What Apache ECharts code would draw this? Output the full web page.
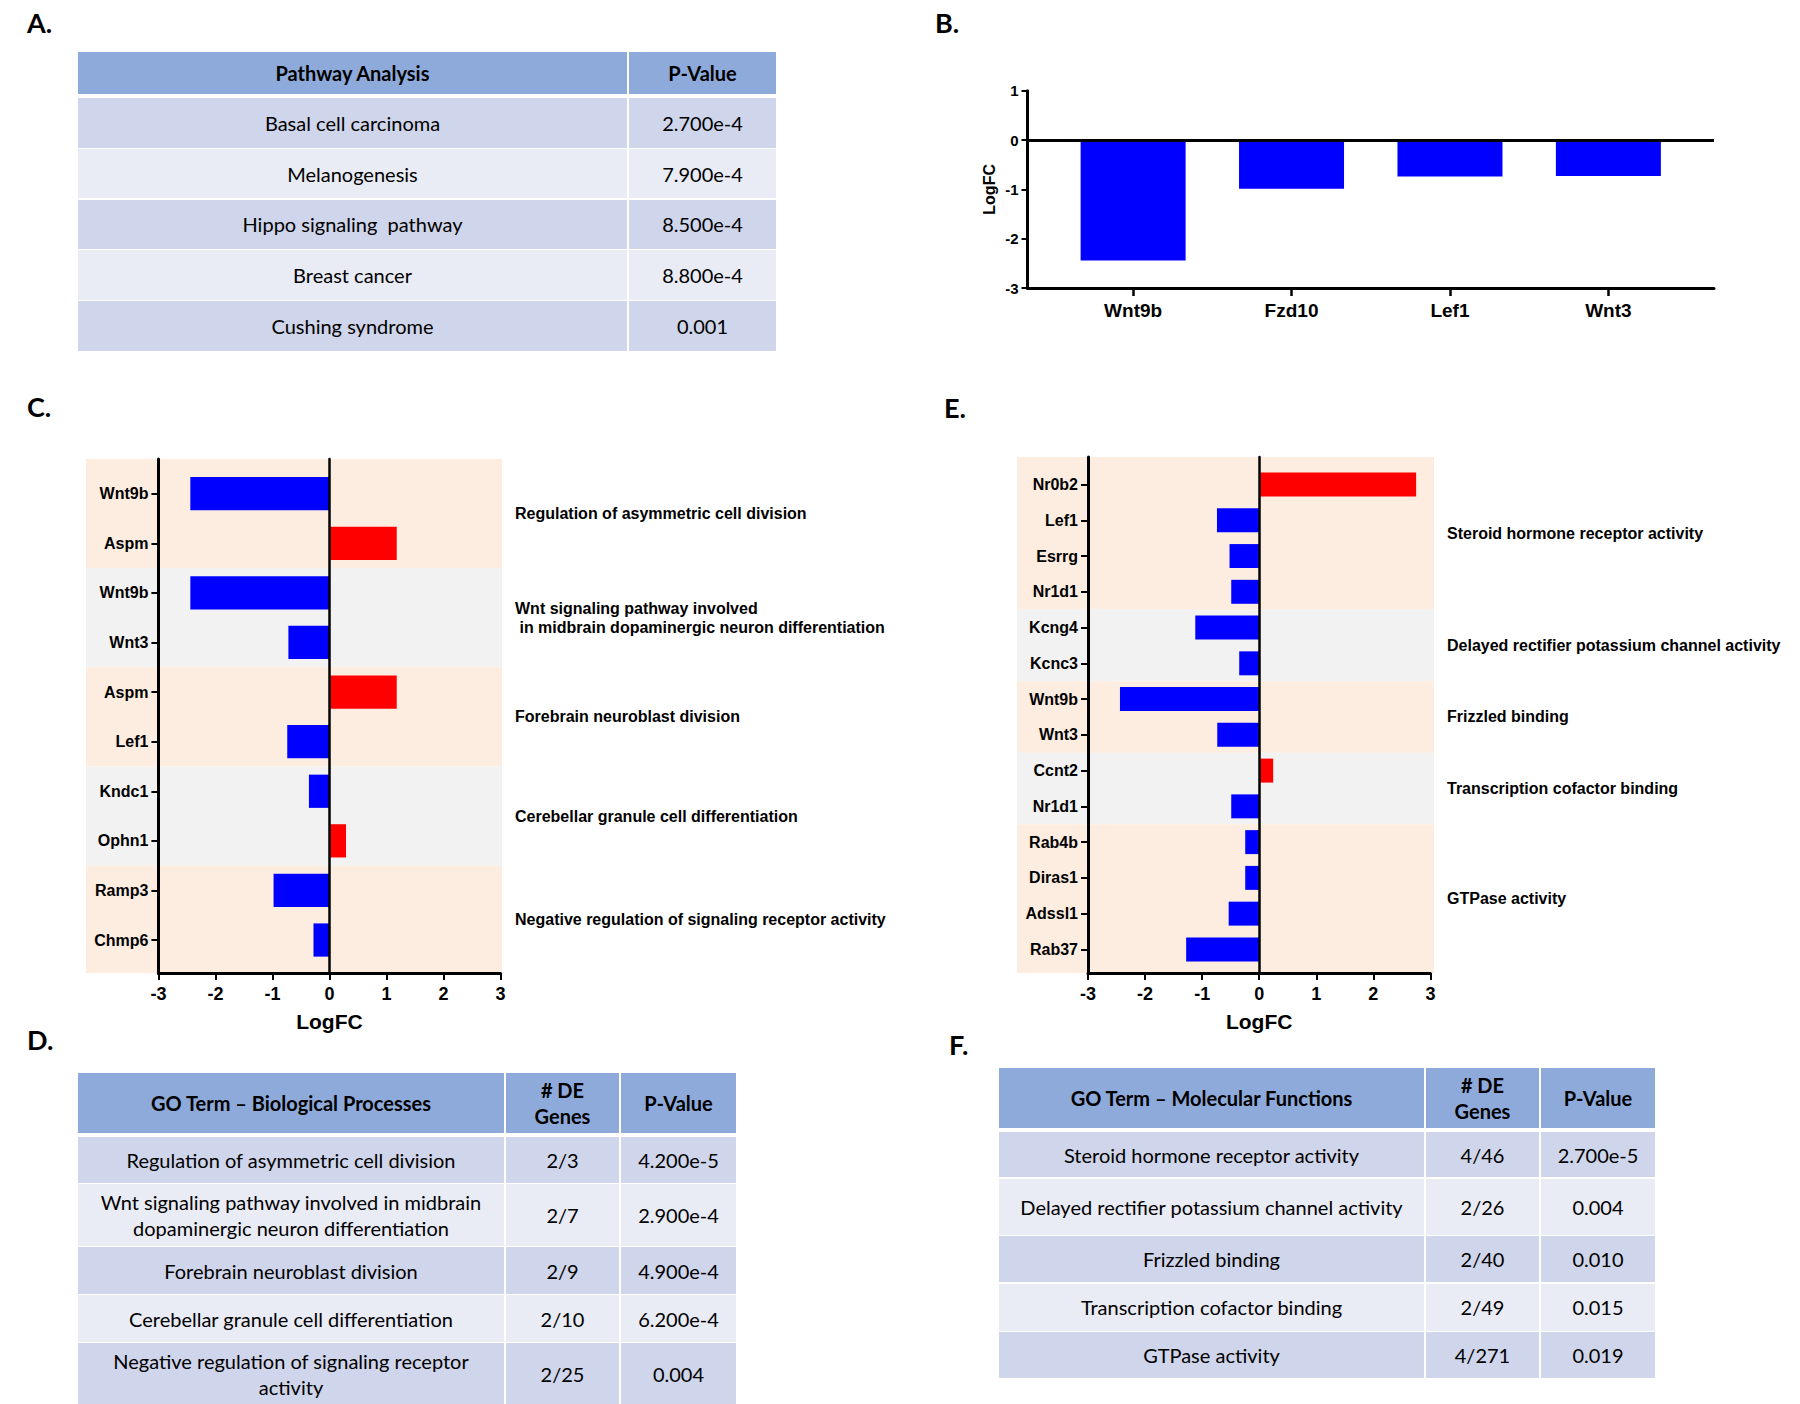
<!DOCTYPE html>
<html><head><meta charset="utf-8">
<script src="https://cdn.jsdelivr.net/npm/echarts@6/dist/echarts.min.js"></script>
<style>
html,body{margin:0;padding:0;background:#fff;}
#chart{position:absolute;left:0;top:0;width:1800px;height:1404px;}
.cell{position:absolute;display:flex;align-items:center;justify-content:center;text-align:center;font-family:Lato,'Open Sans',sans-serif;font-size:20px;color:#000;box-sizing:border-box;white-space:pre-wrap;line-height:26px;}
.hdr{background:#8EAADB;font-weight:bold;}
.odd{background:#CFD5EA;}
.even{background:#E9EBF5;}
</style></head><body>
<div id="chart"></div>
<div id="tables"></div>
<script>
// ---------- DATA ----------
const genesB = ['Wnt9b', 'Fzd10', 'Lef1', 'Wnt3'];
const logfcB = [-2.44, -0.99, -0.74, -0.73];

const genesC = ['Wnt9b', 'Aspm', 'Wnt9b', 'Wnt3', 'Aspm', 'Lef1', 'Kndc1', 'Ophn1', 'Ramp3', 'Chmp6'];
const logfcC = [-2.44, 1.18, -2.44, -0.72, 1.18, -0.74, -0.36, 0.29, -0.98, -0.28];
const groupsC = ['Regulation of asymmetric cell division',
  'Wnt signaling pathway involved\n in midbrain dopaminergic neuron differentiation',
  'Forebrain neuroblast division',
  'Cerebellar granule cell differentiation',
  'Negative regulation of signaling receptor activity'];
const groupSizesC = [2, 2, 2, 2, 2];

const genesE = ['Nr0b2', 'Lef1', 'Esrrg', 'Nr1d1', 'Kcng4', 'Kcnc3', 'Wnt9b', 'Wnt3', 'Ccnt2', 'Nr1d1', 'Rab4b', 'Diras1', 'Adssl1', 'Rab37'];
const logfcE = [2.75, -0.74, -0.52, -0.49, -1.12, -0.35, -2.44, -0.735, 0.245, -0.49, -0.245, -0.245, -0.535, -1.28];
const groupsE = ['Steroid hormone receptor activity',
  'Delayed rectifier potassium channel activity',
  'Frizzled binding',
  'Transcription cofactor binding',
  'GTPase activity'];
const groupSizesE = [4, 2, 2, 2, 4];

const pathwayHeader = ['Pathway Analysis', 'P-Value'];
const pathwayNames = ['Basal cell carcinoma', 'Melanogenesis', 'Hippo signaling  pathway', 'Breast cancer', 'Cushing syndrome'];
const pathwayP = ['2.700e-4', '7.900e-4', '8.500e-4', '8.800e-4', '0.001'];

const bpHeader = ['GO Term \u2013 Biological Processes', '# DE\nGenes', 'P-Value'];
const bpTerms = ['Regulation of asymmetric cell division',
  'Wnt signaling pathway involved in midbrain\ndopaminergic neuron differentiation',
  'Forebrain neuroblast division',
  'Cerebellar granule cell differentiation',
  'Negative regulation of signaling receptor\nactivity'];
const bpGenes = ['2/3', '2/7', '2/9', '2/10', '2/25'];
const bpP = ['4.200e-5', '2.900e-4', '4.900e-4', '6.200e-4', '0.004'];

const mfHeader = ['GO Term \u2013 Molecular Functions', '# DE\nGenes', 'P-Value'];
const mfTerms = ['Steroid hormone receptor activity', 'Delayed rectifier potassium channel activity', 'Frizzled binding', 'Transcription cofactor binding', 'GTPase activity'];
const mfGenes = ['4/46', '2/26', '2/40', '2/49', '4/271'];
const mfP = ['2.700e-5', '0.004', '0.010', '0.015', '0.019'];

// ---------- STYLE / LAYOUT ----------
const FONT = "'Liberation Sans', Arial, sans-serif";
const BLUE = '#0000FF', RED = '#FF0000';
const BG = ['#FDEDE0', '#F2F2F2'];

// panel layout: frame = plotting box of LogFC axes, bg = shaded box, pad = empty row fraction above/below rows
const layC = { frameLeft: 158.4, frameW: 342.1, top: 459, h: 514, bgLeft: 86, bgW: 416, padTop: 0.20, padBot: 0.165 };
const layE = { frameLeft: 1088, frameW: 342.4, top: 457, h: 516, bgLeft: 1017, bgW: 417, padTop: 0.27, padBot: 0.16 };

function groupRanges(sizes) {
  let s = 0; return sizes.map((n, i) => { const r = [s, s + n, i % 2]; s += n; return r; });
}

function panel(genes, vals, sizes, names, lay, g0) {
  const n = genes.length;
  const step = lay.h / (n + lay.padTop + lay.padBot);
  const innerTop = lay.top + lay.padTop * step;
  const ymin = -lay.padTop, ymax = n + lay.padBot;
  const ranges = groupRanges(sizes);
  const bgData = ranges.map((r, i) => [i === 0 ? ymin : r[0], i === ranges.length - 1 ? ymax : r[1], r[2]]);
  const centers = bgData.map(r => (r[0] + r[1]) / 2);
  const noGrid = { containLabel: false, outerBoundsMode: 'none' };
  const grids = [
    Object.assign({ left: lay.bgLeft, top: lay.top, width: lay.bgW, height: lay.h }, noGrid),
    Object.assign({ left: lay.frameLeft, top: lay.top, width: lay.frameW, height: lay.h }, noGrid),
    Object.assign({ left: lay.frameLeft, top: innerTop, width: lay.frameW, height: n * step }, noGrid)
  ];
  const xAxes = [
    { type: 'value', gridIndex: g0, min: 0, max: 1, show: false },
    { type: 'value', gridIndex: g0 + 1, min: -3, max: 3, interval: 1, z: 3,
      axisLine: { show: true, onZero: false, lineStyle: { color: '#000', width: 3 } },
      axisTick: { show: true, length: 7, lineStyle: { color: '#000', width: 2 } },
      splitLine: { show: false },
      axisLabel: { color: '#000', fontFamily: FONT, fontWeight: 'bold', fontSize: 18, margin: 12, showMinLabel: true, showMaxLabel: true },
      name: 'LogFC', nameLocation: 'middle', nameGap: 38,
      nameTextStyle: { color: '#000', fontFamily: FONT, fontWeight: 'bold', fontSize: 21 } },
    { type: 'value', gridIndex: g0 + 2, min: -3, max: 3, show: false }
  ];
  const yAxes = [
    { type: 'value', gridIndex: g0, min: ymin, max: ymax, inverse: true, position: 'right',
      axisLine: { show: false }, axisTick: { show: false }, splitLine: { show: false },
      axisLabel: { show: true, customValues: centers, align: 'left', margin: 13,
        color: '#000', fontFamily: FONT, fontWeight: 'bold', fontSize: 16, lineHeight: 19,
        formatter: v => { const i = centers.findIndex(c => Math.abs(c - v) < 1e-6); return i >= 0 ? names[i] : ''; } } },
    { type: 'value', gridIndex: g0 + 1, min: 0, max: 1, position: 'left', z: 3,
      axisLine: { show: true, onZero: false, lineStyle: { color: '#000', width: 3 } },
      axisTick: { show: false }, axisLabel: { show: false }, splitLine: { show: false } },
    { type: 'value', gridIndex: g0 + 1, min: 0, max: 1, position: 'right', z: 3,
      axisLine: { show: true, onZero: true, lineStyle: { color: '#000', width: 2.5 } },
      axisTick: { show: false }, axisLabel: { show: false }, splitLine: { show: false } },
    { type: 'category', gridIndex: g0 + 2, data: genes, inverse: true, z: 3,
      axisLine: { show: false, onZero: false },
      axisTick: { show: true, alignWithLabel: true, length: 7, lineStyle: { color: '#000', width: 2 } },
      axisLabel: { interval: 0, color: '#000', fontFamily: FONT, fontWeight: 'bold', fontSize: 16, margin: 10 } }
  ];
  return { grids, xAxes, yAxes, centers, bgData };
}

const pC = panel(genesC, logfcC, groupSizesC, groupsC, layC, 1);
const pE = panel(genesE, logfcE, groupSizesE, groupsE, layE, 4);
const catIdxB = genesB.map((g, i) => i);

function bgSeries(p, xi, yi) {
  return { type: 'custom', xAxisIndex: xi, yAxisIndex: yi, z: 0, silent: true,
    data: p.bgData,
    renderItem: (params, api) => {
      const p0 = api.coord([0, api.value(0)]);
      const p1 = api.coord([1, api.value(1)]);
      return { type: 'rect', shape: { x: p0[0], y: p0[1], width: p1[0] - p0[0], height: p1[1] - p0[1] },
        style: { fill: BG[api.value(2)] } };
    } };
}
function barSeries(vals, xi, yi) {
  return { type: 'bar', xAxisIndex: xi, yAxisIndex: yi, data: vals, barCategoryGap: '33%', z: 2,
    itemStyle: { color: p => (p.value > 0 ? RED : BLUE) } };
}

const letterStyle = { fontFamily: "Lato, 'Open Sans', sans-serif", fontWeight: 'bold', fontSize: 27, color: '#000' };
const option = {
  animation: false,
  backgroundColor: '#fff',
  title: [
    { text: 'A.', left: 27, top: 9, padding: 0, textStyle: letterStyle },
    { text: 'B.', left: 935, top: 9, padding: 0, textStyle: letterStyle },
    { text: 'C.', left: 27, top: 393, padding: 0, textStyle: letterStyle },
    { text: 'D.', left: 27, top: 1026, padding: 0, textStyle: letterStyle },
    { text: 'E.', left: 944, top: 394, padding: 0, textStyle: letterStyle },
    { text: 'F.', left: 949, top: 1031, padding: 0, textStyle: letterStyle }
  ],
  grid: [{ left: 1027.5, top: 90.7, width: 686.5, height: 197.3, containLabel: false, outerBoundsMode: 'none' }]
    .concat(pC.grids, pE.grids),
  xAxis: [
    { type: 'value', gridIndex: 0, min: -2 / 3, max: 3 + 2 / 3, z: 3,
      axisLine: { show: true, onZero: false, lineStyle: { color: '#000', width: 3 } },
      axisTick: { show: true, customValues: catIdxB, length: 8, lineStyle: { color: '#000', width: 2.5 } },
      splitLine: { show: false },
      axisLabel: { customValues: catIdxB, formatter: v => genesB[Math.round(v)] || '', color: '#000',
        fontFamily: FONT, fontWeight: 'bold', fontSize: 19, margin: 13 } }
  ].concat(pC.xAxes, pE.xAxes),
  yAxis: [
    { type: 'value', gridIndex: 0, min: -3, max: 1, interval: 1, z: 3,
      axisLine: { show: true, onZero: false, lineStyle: { color: '#000', width: 3 } },
      axisTick: { show: true, length: 6, lineStyle: { color: '#000', width: 2 } },
      splitLine: { show: false },
      axisLabel: { color: '#000', fontFamily: FONT, fontWeight: 'bold', fontSize: 15, margin: 9 },
      name: 'LogFC', nameLocation: 'middle', nameGap: 30, nameRotate: 90,
      nameTextStyle: { color: '#000', fontFamily: FONT, fontWeight: 'bold', fontSize: 16 } }
  ].concat(pC.yAxes, pE.yAxes),
  series: [
    { type: 'bar', xAxisIndex: 0, yAxisIndex: 0, barWidth: 105,
      data: logfcB.map((v, i) => [i, v]),
      itemStyle: { color: BLUE },
      markLine: { silent: true, symbol: 'none', label: { show: false },
        lineStyle: { color: '#000', width: 3, type: 'solid' }, data: [{ yAxis: 0 }] } },
    bgSeries(pC, 1, 1),
    barSeries(logfcC, 3, 4),
    bgSeries(pE, 4, 5),
    barSeries(logfcE, 6, 8)
  ]
};

const chart = echarts.init(document.getElementById('chart'), null, { renderer: 'svg' });
chart.setOption(option);

// ---------- TABLES ----------
function buildTable(spec, header, cols) {
  const root = document.getElementById('tables');
  const rows = [header].concat(cols[0].map((_, r) => cols.map(c => c[r])));
  let y = spec.top;
  rows.forEach((row, ri) => {
    const h = ri === 0 ? spec.headerH : spec.rowH[ri - 1];
    let x = spec.left;
    row.forEach((txt, ci) => {
      const d = document.createElement('div');
      d.className = 'cell ' + (ri === 0 ? 'hdr' : (ri % 2 ? 'odd' : 'even'));
      d.style.left = x + 'px';
      d.style.top = y + 'px';
      d.style.width = (spec.colW[ci] - (ci < row.length - 1 ? 2 : 0)) + 'px';
      d.style.height = h + 'px';
      d.textContent = txt;
      root.appendChild(d);
      x += spec.colW[ci];
    });
    y += h + (ri === 0 ? spec.headerGap : spec.rowGap);
  });
}
buildTable({ left: 78, top: 52, colW: [551, 147], headerH: 42, headerGap: 4, rowH: [49.5, 49.5, 49.5, 49.5, 49.5], rowGap: 1.3 },
  pathwayHeader, [pathwayNames, pathwayP]);
buildTable({ left: 78, top: 1073, colW: [428, 115, 115], headerH: 60, headerGap: 4, rowH: [46, 62, 47, 47, 61], rowGap: 1 },
  bpHeader, [bpTerms, bpGenes, bpP]);
buildTable({ left: 999, top: 1068, colW: [427, 115, 114], headerH: 60, headerGap: 4, rowH: [45, 56, 46, 47, 46], rowGap: 1.5 },
  mfHeader, [mfTerms, mfGenes, mfP]);
</script>
</body></html>
